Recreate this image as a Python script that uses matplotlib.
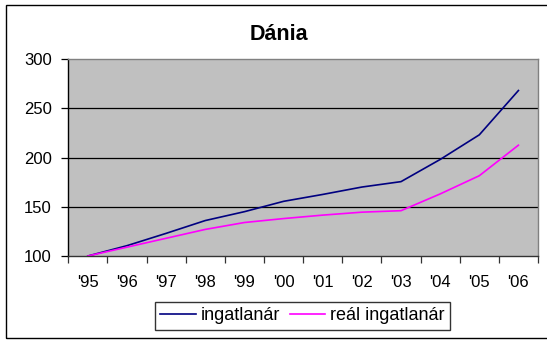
import matplotlib
matplotlib.use('Agg')
import matplotlib.pyplot as plt
import matplotlib.patches as mpatches
import numpy as np

plt.rcParams['font.family'] = ['Liberation Sans', 'DejaVu Sans']

years = ["'95", "'96", "'97", "'98", "'99", "'00", "'01", "'02", "'03", "'04", "'05", "'06"]
ingatlanar = [100, 110.5, 123, 136, 145, 155.5, 162.5, 170, 175.5, 198, 223, 268]
real_ingatlanar = [100, 109, 118, 127, 134, 138, 141.5, 144.5, 146, 163, 181.5, 212.5]

fig = plt.figure(figsize=(5.47, 3.40), dpi=100)
fig.patch.set_facecolor('white')

# outer chart frame (runs off the right edge)
frame = mpatches.Rectangle((5.5 / 547, 2 / 340), 1.2, 333 / 340,
                           transform=fig.transFigure, fill=False,
                           edgecolor='black', linewidth=1.0)
fig.add_artist(frame)

ax = fig.add_axes([68.3 / 547, 84 / 340, (538 - 68.3) / 547, 197 / 340])
ax.set_facecolor('#C0C0C0')

x = np.arange(len(years))
ax.plot(x, ingatlanar, color='#000080', linewidth=1.2, label='ingatlanár')
ax.plot(x, real_ingatlanar, color='#FF00FF', linewidth=1.2, label='reál ingatlanár')

ax.set_xlim(-0.5, len(years) - 0.5)
ax.set_ylim(100, 300)

for yv in (150, 200, 250):
    ax.axhline(yv, color='black', linewidth=0.9, zorder=0.5)

ax.set_yticks([100, 150, 200, 250, 300])
ax.set_xticks(x)
ax.set_xticklabels(years)
ax.set_xticks(np.arange(-0.5, len(years)), minor=True)
ax.tick_params(axis='x', which='major', length=0, pad=14, labelsize=12)
ax.tick_params(axis='x', which='minor', length=5, width=0.9, color='#333333', direction='out')
ax.tick_params(axis='y', length=5, width=0.9, color='black', direction='out',
               pad=7, labelsize=12)

for side in ('top', 'right'):
    ax.spines[side].set_color('#808080')
    ax.spines[side].set_linewidth(1.0)
ax.spines['left'].set_color('black')
ax.spines['bottom'].set_color('#333333')
for side in ('left', 'bottom'):
    ax.spines[side].set_linewidth(1.0)

fig.text(279 / 547, 1 - 35 / 340, 'Dánia', ha='center', va='center',
         fontsize=15.5, fontweight='bold')

leg = fig.legend(loc='center', bbox_to_anchor=(302.5 / 547, 1 - 316 / 340),
                 ncol=2, fontsize=13, frameon=True, fancybox=False,
                 edgecolor='black', handlelength=1.95, handletextpad=0.28,
                 columnspacing=0.55, borderpad=0.3, borderaxespad=0)
leg.get_frame().set_linewidth(1.0)

fig.savefig('out.png', dpi=100)
